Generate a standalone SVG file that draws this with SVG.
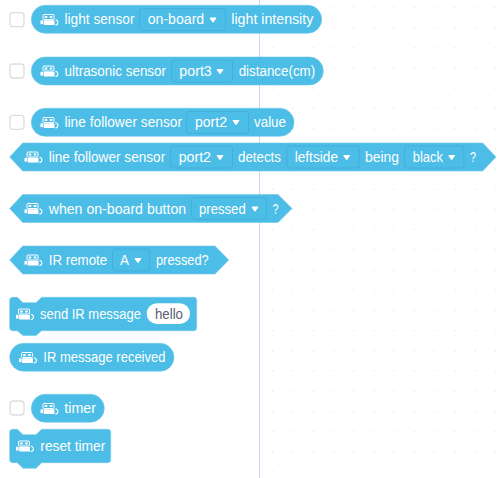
<svg xmlns="http://www.w3.org/2000/svg" width="503" height="478" viewBox="0 0 503 478">
<style>
.b{fill:#4cbde6;stroke:#6fc9ea;stroke-width:.6}
.d{fill:#4cbde6;stroke:#43afdb;stroke-width:1}
.c{fill:#fff;stroke:#dedede;stroke-width:1.3}
.t{font-family:"Liberation Sans","Noto Sans",sans-serif;font-size:14px;fill:#fff}
.h{fill:#575e75}
.a{fill:#fff}
</style>
<defs>
<pattern id="dots" x="9.500" y="6.600" width="20.200" height="20.200" patternUnits="userSpaceOnUse"><rect x="0" y="0" width="1.500" height="1.500" fill="#ececec"/></pattern>
<path id="tri" d="M-2.800 -2.400H2.800Q3.600 -2.400 3.200 -1.600L.5 2.200Q0 2.700 -.5 2.200L-3.200 -1.600Q-3.600 -2.400 -2.800 -2.400Z" class="a"/>
<g id="bot">
<rect x="2.500" y=".5" width="11" height="5" rx="1" fill="none" stroke="#fff" stroke-width="1"/>
<rect class="a" x="4.200" y="2" width="2.600" height="2"/>
<rect class="a" x="9.200" y="2" width="2.600" height="2"/>
<rect class="a" x="0" y="6.300" width="2.600" height="3.800"/>
<rect class="a" x="3.200" y="6.300" width="10.800" height="4.700" rx=".5"/>
<path d="M14.800 5.800A2.600 2.600 0 1 1 14.800 11" fill="none" stroke="#fff" stroke-width="1.100"/>
</g>
</defs>
<rect width="503" height="478" fill="#fff"/>
<rect width="503" height="478" fill="url(#dots)"/>
<rect width="259" height="478" fill="#fff" opacity=".6"/>
<line x1="259.500" y1="0" x2="259.500" y2="478" stroke="#c9d8ef" stroke-width="1"/>
<g id="connectors"/>

<g id="light-sensor">
<rect class="c" x="10" y="12.700" width="14" height="14" rx="3"/>
<rect class="b" x="31.300" y="5.300" width="290.400" height="28" rx="14"/>
<use href="#bot" x="40.500" y="14"/>
<text class="t" x="64.500" y="24" textLength="70" lengthAdjust="spacingAndGlyphs">light sensor</text>
<rect class="d" x="139.500" y="8.500" width="86" height="22" rx="3"/>
<text class="t" x="147.700" y="24" textLength="56.500" lengthAdjust="spacingAndGlyphs">on-board</text>
<use href="#tri" x="213" y="20"/>
<text class="t" x="231.300" y="24" textLength="82" lengthAdjust="spacingAndGlyphs">light intensity</text>
</g>

<g id="ultrasonic-sensor">
<rect class="c" x="10" y="64" width="14" height="14" rx="3"/>
<rect class="b" x="31.300" y="57" width="292" height="28" rx="14"/>
<use href="#bot" x="40.500" y="65.500"/>
<text class="t" x="64.500" y="76" textLength="101.500" lengthAdjust="spacingAndGlyphs">ultrasonic sensor</text>
<rect class="d" x="171.500" y="60" width="61" height="22" rx="3"/>
<text class="t" x="179.300" y="76" textLength="32.500" lengthAdjust="spacingAndGlyphs">port3</text>
<use href="#tri" x="220" y="71.500"/>
<text class="t" x="238.700" y="76" textLength="76.500" lengthAdjust="spacingAndGlyphs">distance(cm)</text>
</g>

<g id="line-follower-value">
<rect class="c" x="10" y="115.300" width="14" height="14" rx="3"/>
<rect class="b" x="31.300" y="108.300" width="262.700" height="28" rx="14"/>
<use href="#bot" x="40.500" y="117"/>
<text class="t" x="64.500" y="127" textLength="117.500" lengthAdjust="spacingAndGlyphs">line follower sensor</text>
<rect class="d" x="186.500" y="111.500" width="62" height="22" rx="3"/>
<text class="t" x="195" y="127" textLength="32" lengthAdjust="spacingAndGlyphs">port2</text>
<use href="#tri" x="236" y="122.500"/>
<text class="t" x="254" y="127" textLength="32" lengthAdjust="spacingAndGlyphs">value</text>
</g>

<g id="line-follower-detects">
<path class="b" d="M22.700 143H482.700L496 157L482.700 171H22.700L9.700 157Z"/>
<use href="#bot" x="24.500" y="151.500"/>
<text class="t" x="48.700" y="162" textLength="116.500" lengthAdjust="spacingAndGlyphs">line follower sensor</text>
<rect class="d" x="170.500" y="146" width="62" height="22" rx="3"/>
<text class="t" x="178.700" y="162" textLength="32.300" lengthAdjust="spacingAndGlyphs">port2</text>
<use href="#tri" x="220" y="157.500"/>
<text class="t" x="238" y="162" textLength="43" lengthAdjust="spacingAndGlyphs">detects</text>
<rect class="d" x="286.800" y="146" width="72.500" height="22" rx="3"/>
<text class="t" x="294.700" y="162" textLength="43.300" lengthAdjust="spacingAndGlyphs">leftside</text>
<use href="#tri" x="346.700" y="157.500"/>
<text class="t" x="365" y="162" textLength="34" lengthAdjust="spacingAndGlyphs">being</text>
<rect class="d" x="404.500" y="146" width="59.500" height="22" rx="3"/>
<text class="t" x="412.700" y="162" textLength="30.300" lengthAdjust="spacingAndGlyphs">black</text>
<use href="#tri" x="451.700" y="157.500"/>
<text class="t" x="470" y="162" textLength="6" lengthAdjust="spacingAndGlyphs">?</text>
</g>

<g id="on-board-button">
<path class="b" d="M22.700 194.500H278L292 208.500L278 222.500H22.700L9.700 208.500Z"/>
<use href="#bot" x="24.500" y="203"/>
<text class="t" x="48.700" y="213.500" textLength="137.500" lengthAdjust="spacingAndGlyphs">when on-board button</text>
<rect class="d" x="191.500" y="197.500" width="75" height="22" rx="3"/>
<text class="t" x="199" y="213.500" textLength="46.700" lengthAdjust="spacingAndGlyphs">pressed</text>
<use href="#tri" x="255" y="209"/>
<text class="t" x="272.500" y="213.500" textLength="6" lengthAdjust="spacingAndGlyphs">?</text>
</g>

<g id="ir-remote">
<path class="b" d="M22.700 246H215L228.700 260L215 274H22.700L9.700 260Z"/>
<use href="#bot" x="24.500" y="254.500"/>
<text class="t" x="48.700" y="265" textLength="58.500" lengthAdjust="spacingAndGlyphs">IR remote</text>
<rect class="d" x="112.500" y="249" width="37" height="22" rx="3"/>
<text class="t" x="120" y="265" textLength="9" lengthAdjust="spacingAndGlyphs">A</text>
<use href="#tri" x="138" y="260.500"/>
<text class="t" x="156" y="265" textLength="52.700" lengthAdjust="spacingAndGlyphs">pressed?</text>
</g>

<g id="send-ir-message">
<path class="b" d="M12.700 297.300H17.300L23 302.700H36L41.700 297.300H193.700Q196.700 297.300 196.700 300.300V327.700Q196.700 330.700 193.700 330.700H41.700L36 335.500H23L17.300 330.700H12.700Q9.700 330.700 9.700 327.700V300.300Q9.700 297.300 12.700 297.300Z"/>
<use href="#bot" x="16" y="308.500"/>
<text class="t" x="40" y="319" textLength="101" lengthAdjust="spacingAndGlyphs">send IR message</text>
<rect x="146.700" y="303.300" width="43.300" height="20.700" rx="10.300" fill="#fff"/>
<text class="t h" x="155" y="319" textLength="28" lengthAdjust="spacingAndGlyphs">hello</text>
</g>

<g id="ir-message-received">
<rect class="b" x="9.700" y="343.300" width="164.300" height="28" rx="14"/>
<use href="#bot" x="19" y="352"/>
<text class="t" x="43.300" y="362" textLength="122.200" lengthAdjust="spacingAndGlyphs">IR message received</text>
</g>

<g id="timer">
<rect class="c" x="10" y="401" width="14" height="14" rx="3"/>
<rect class="b" x="31.300" y="394.300" width="73" height="28" rx="14"/>
<use href="#bot" x="40.500" y="403"/>
<text class="t" x="64.300" y="413" textLength="31.700" lengthAdjust="spacingAndGlyphs">timer</text>
</g>

<g id="reset-timer">
<path class="b" d="M12.700 429.300H17.300L23 434.700H36L41.700 429.300H107.700Q110.700 429.300 110.700 432.300V459.700Q110.700 462.700 107.700 462.700H41.700L36 468.300H23L17.300 462.700H12.700Q9.700 462.700 9.700 459.700V432.300Q9.700 429.300 12.700 429.300Z"/>
<use href="#bot" x="16" y="440.500"/>
<text class="t" x="40.300" y="451" textLength="65" lengthAdjust="spacingAndGlyphs">reset timer</text>
</g>
</svg>
